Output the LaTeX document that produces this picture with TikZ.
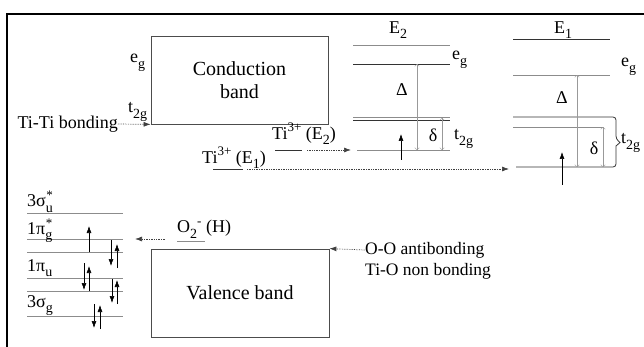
\documentclass[tikz,border=0pt]{standalone}
\usepackage{fontspec}
\setmainfont{Liberation Serif}
\usetikzlibrary{arrows.meta}
\newcommand\lsub[1]{\raisebox{-0.3em}{\fontsize{14}{14}\selectfont #1}}
\newcommand\lsup[1]{\raisebox{0.42em}{\fontsize{13}{13}\selectfont #1}}
\newcommand\lsupb[1]{\raisebox{0.36em}{\fontsize{13}{13}\selectfont #1}}
\begin{document}
\begin{tikzpicture}[x=1pt,y=-1pt,
  txt/.style={font=\fontsize{18}{20}\selectfont, inner sep=0pt},
  bandtxt/.style={font=\fontsize{20}{23}\selectfont},
  bandbox/.style={draw=black!70, line width=0.8pt, align=center, inner sep=0pt},
  lvl/.style={line width=0.8pt, draw=black!80},
  lvlg/.style={line width=0.8pt, draw=black!45},
  dotarrow/.style={densely dotted, line width=0.7pt, draw=black!75, -{Latex[length=7pt,width=5pt]}},
  elec/.style={line width=0.6pt, -{Latex[length=7pt,width=5pt]}},
  gap/.style={draw=black!40, line width=0.4pt, {To[length=2.5pt,width=5pt]}-{To[length=2.5pt,width=5pt]}}
]
\useasboundingbox (0,0) rectangle (644,347);
% frame
\draw[line width=1.5pt] (7,347) -- (7,14) -- (644,14);

% bands
\node[bandbox, minimum width=177pt, minimum height=88pt, bandtxt] (cb) at (239.5,80) {Conduction\\band};
\node[bandbox, minimum width=178pt, minimum height=88pt, bandtxt] (vb) at (240,293) {Valence band};

% labels at conduction band
\node[txt, anchor=base west] (egc) at (130,63) {e\lsub{g}};
\node[txt, anchor=base west] (t2c) at (128,113) {t\lsub{2g}};
\node[txt, anchor=east] (titi) at (118,124) {Ti-Ti bonding};
\draw[dotarrow] (titi.east) -- (cb.south west);

% valence band labels
\node[txt, anchor=west, font=\fontsize{17.5}{20}\selectfont] (oo1) at (365,250) {O-O antibonding};
\node[txt, anchor=west, font=\fontsize{17.5}{20}\selectfont] (oo2) at (365,271) {Ti-O non bonding};
\draw[dotarrow] (oo1.west) -- (vb.north east);

% O2- (H)
\node[txt, anchor=base west] (o2h) at (177,233) {O\lsub{2}\lsup{-} (H)};
\draw[lvlg] (177,241) coordinate (o2a) -- (205,241) coordinate (o2b);
\coordinate (o2s) at (165,239);
\coordinate (o2t) at (135,239);
\draw[dotarrow] (o2s) -- (o2t);

% MO levels
\foreach \y/\n in {213/m1,239/m2,252/m3,278/m4,291/m5,316/m6}{
  \draw[lvlg] (27,\y) coordinate (\n a) -- (123,\y) coordinate (\n b);
}
\node[txt, anchor=base west] (s3u) at (27,207) {3σ\lsub{u}\llap{\lsup{*}}};
\node[txt, anchor=base west] (p1g) at (27,234) {1π\lsub{g}\llap{\lsupb{*}}};
\node[txt, anchor=base west] (p1u) at (27,271) {1π\lsub{u}};
\node[txt, anchor=base west] (s3g) at (27,307) {3σ\lsub{g}};
% electrons
\draw[elec] (89,252) -- (89,226);
\draw[elec] (111,240) -- (111,266);
\draw[elec] (117,268) -- (117,244);
\draw[elec] (84,263) -- (84,290);
\draw[elec] (89,291) -- (89,266);
\draw[elec] (112,279) -- (112,303);
\draw[elec] (117,304) -- (117,280);
\draw[elec] (94,304) -- (94,328);
\draw[elec] (100,329) -- (100,305);

% Ti3+ (E2)
\node[txt] (tie2) at (304,134) {Ti\lsup{3+} (E\lsub{2})};
\draw[lvl] (275,150) -- (302,150);
\coordinate (tie2s) at (307,150);
\coordinate (tie2t) at (351,150);
\draw[dotarrow] (tie2s) -- (tie2t);

% Ti3+ (E1)
\node[txt] (tie1) at (234,158) {Ti\lsup{3+} (E\lsub{1})};
\draw[lvl] (213,169) -- (243,169);
\coordinate (tie1s) at (247,169);
\coordinate (tie1t) at (509,169);
\draw[dotarrow] (tie1s) -- (tie1t);

% E2 diagram
\node[txt] (e2) at (398,30) {E\lsub{2}};
\draw[lvlg] (353,45) -- (450,45);
\draw[lvl] (353,64) coordinate (e2eg) -- (450,64);
\draw[lvlg] (353,117) -- (450,117);
\draw[lvl] (353,120) -- (450,120);
\draw[lvlg] (357,150) -- (450,150);
\node[txt, anchor=base west] (e2egl) at (452,60) {e\lsub{g}};
\node[txt, anchor=base west] (e2t2l) at (454,140) {t\lsub{2g}};
\draw[gap] (417,64) -- (417,150);
\draw[gap] (442,118) -- (442,150);
\node[txt] (e2D) at (402,90) {Δ};
\node[txt] (e2d) at (433,135) {δ};
\draw[elec] (401,160) -- (401,134);

% E1 diagram
\node[txt] (e1) at (563,30) {E\lsub{1}};
\draw[lvl] (513,39) -- (610,39);
\draw[lvlg] (513,75) -- (610,75);
\draw[lvl, rounded corners=3pt] (513,117) -- (616,117) -- (616,139) [sharp corners] -- (620,142.5) -- (616,146) [rounded corners=3pt] -- (616,167) -- (516,167);
\draw[lvlg] (513,127) -- (603,127);
\node[txt, anchor=base west] (e1egl) at (621,67) {e\lsub{g}};
\node[txt, anchor=west] (e1t2l) at (621,143) {t\lsub{2g}};
\draw[gap] (577,75) -- (577,167);
\draw[gap] (603,127) -- (603,167);
\node[txt] (e1D) at (562,98) {Δ};
\node[txt] (e1d) at (594,148) {δ};
\draw[elec] (562,185) -- (562,152);
\end{tikzpicture}
\end{document}
